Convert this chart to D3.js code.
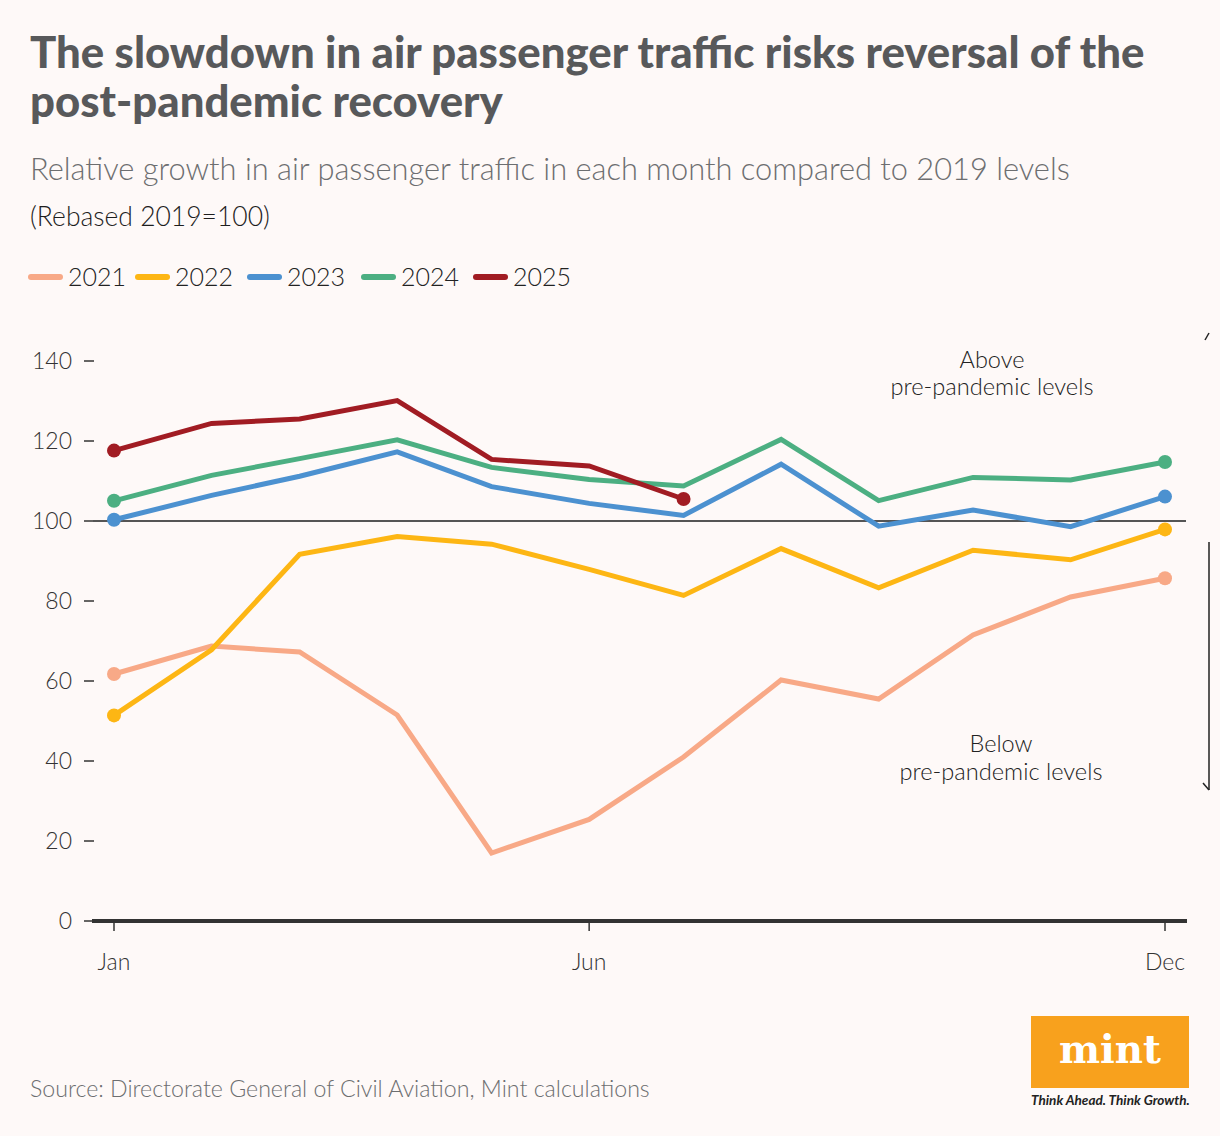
<!DOCTYPE html>
<html>
<head>
<meta charset="utf-8">
<script src="https://cdn.jsdelivr.net/npm/d3@7"></script>
<style>
  html, body { margin: 0; padding: 0; background: #fef9f8; }
  svg { display: block; }
</style>
</head>
<body>
<svg id="chart" width="1220" height="1136"></svg>
<script>
// ---------- Data ----------
const months = ["Jan","Feb","Mar","Apr","May","Jun","Jul","Aug","Sep","Oct","Nov","Dec"];
const years = ["2021","2022","2023","2024","2025"];
const colors = ["#f8a987","#fdb614","#4c91d0","#4caf82","#a11c23"];
const v2021 = [61.75, 68.75, 67.25, 51.5, 17, 25.4, 41, 60.25, 55.5, 71.5, 81, 85.7];
const v2022 = [51.4, 67.8, 91.7, 96.1, 94.2, 87.9, 81.4, 93.1, 83.3, 92.7, 90.3, 97.9];
const v2023 = [100.3, 106.4, 111.2, 117.3, 108.6, 104.4, 101.4, 114.2, 98.7, 102.75, 98.6, 106.1];
const v2024 = [105.05, 111.4, 115.6, 120.3, 113.4, 110.4, 108.75, 120.4, 105.1, 110.9, 110.25, 114.75];
const v2025 = [117.6, 124.4, 125.5, 130.1, 115.4, 113.75, 105.5];
const seriesValues = [v2021, v2022, v2023, v2024, v2025];
const yTicks = [0, 20, 40, 60, 80, 100, 120, 140];
const xTickMonths = ["Jan","Jun","Dec"];
const refValue = 100;

const titleLines = ["The slowdown in air passenger traffic risks reversal of the", "post-pandemic recovery"];
const subtitle = "Relative growth in air passenger traffic in each month compared to 2019 levels";
const rebased = "(Rebased 2019=100)";
const source = "Source: Directorate General of Civil Aviation, Mint calculations";

// ---------- Setup ----------
const FONT = "Lato, 'Open Sans', sans-serif";
const svg = d3.select("#chart").style("font-family", FONT);
svg.append("rect").attr("width", 1220).attr("height", 1136).attr("fill", "#fef9f8");

const monthDate = m => new Date(2021, months.indexOf(m), 1);
const x = d3.scaleTime().domain([monthDate("Jan"), monthDate("Dec")]).range([114, 1165]);
const y = d3.scaleLinear().domain([0, 140]).range([921, 361]);

function fit(sel, target) {
  const w = sel.node().getComputedTextLength();
  const fs = parseFloat(sel.attr("font-size"));
  sel.attr("font-size", fs * target / w);
}

// ---------- Titles ----------
const t1 = svg.append("text").attr("x", 30).attr("y", 68).attr("font-size", 42).attr("font-weight", 900)
  .attr("fill", "#58595b").text(titleLines[0]);
fit(t1, 1115);
svg.append("text").attr("x", 30).attr("y", 117).attr("font-size", t1.attr("font-size")).attr("font-weight", 900)
  .attr("fill", "#58595b").text(titleLines[1]);

const st = svg.append("text").attr("x", 30).attr("y", 180).attr("font-size", 30).attr("font-weight", 300)
  .attr("fill", "#6d6e70").text(subtitle);
fit(st, 1040);
const rb = svg.append("text").attr("x", 30).attr("y", 226).attr("font-size", 26).attr("font-weight", 300)
  .attr("fill", "#1e1e1e").text(rebased);
fit(rb, 240);

// ---------- Legend ----------
const legendX = [31, 138, 250, 364, 476];
years.forEach((yr, i) => {
  const g = svg.append("g");
  g.append("line").attr("x1", legendX[i]).attr("x2", legendX[i] + 29).attr("y1", 277).attr("y2", 277)
    .attr("stroke", colors[i]).attr("stroke-width", 6).attr("stroke-linecap", "round");
  g.append("text").attr("x", legendX[i] + 37).attr("y", 286).attr("font-size", 25).attr("font-weight", 300)
    .attr("fill", "#222").text(yr);
});

// ---------- Axes ----------
const yAxis = svg.append("g");
yTicks.forEach(t => {
  yAxis.append("line").attr("x1", 84).attr("x2", 94).attr("y1", y(t)).attr("y2", y(t))
    .attr("stroke", "#333").attr("stroke-width", 1.5);
  yAxis.append("text").attr("x", 72).attr("y", y(t) + 8).attr("text-anchor", "end")
    .attr("font-size", 23).attr("font-weight", 300).attr("fill", "#333").text(t);
});

// reference line at 100
svg.append("line").attr("x1", 93).attr("x2", 1186).attr("y1", y(refValue)).attr("y2", y(refValue))
  .attr("stroke", "#555").attr("stroke-width", 1.8);

// baseline
svg.append("line").attr("x1", 92).attr("x2", 1187).attr("y1", y(0)).attr("y2", y(0))
  .attr("stroke", "#333").attr("stroke-width", 4);

xTickMonths.forEach(m => {
  svg.append("line").attr("x1", x(monthDate(m))).attr("x2", x(monthDate(m))).attr("y1", y(0)).attr("y2", y(0) + 10)
    .attr("stroke", "#333").attr("stroke-width", 1.5);
  svg.append("text").attr("x", x(monthDate(m))).attr("y", 970).attr("text-anchor", "middle")
    .attr("font-size", 23).attr("font-weight", 300).attr("fill", "#333").text(m);
});

// ---------- Lines ----------
const line = d3.line().x((d, i) => x(monthDate(months[i]))).y(d => y(d));
seriesValues.forEach((vals, i) => {
  svg.append("path").attr("d", line(vals)).attr("fill", "none").attr("stroke", colors[i])
    .attr("stroke-width", 5).attr("stroke-linejoin", "miter");
  [0, vals.length - 1].forEach(k => {
    svg.append("circle").attr("cx", x(monthDate(months[k]))).attr("cy", y(vals[k])).attr("r", 7)
      .attr("fill", colors[i]);
  });
});

// ---------- Annotations ----------
[["Above", 992, 368], ["pre-pandemic levels", 992, 395], ["Below", 1001, 752], ["pre-pandemic levels", 1001, 780]]
  .forEach(([txt, ax, ay]) => {
    const t = svg.append("text").attr("x", ax).attr("y", ay).attr("text-anchor", "middle").attr("font-size", 21)
      .attr("font-weight", 300).attr("fill", "#222").text(txt);
    if (txt.startsWith("pre")) fit(t, 203);
    else t.attr("font-size", 23.5);
  });

// arrows on the right edge
svg.append("line").attr("x1", 1205).attr("y1", 340).attr("x2", 1209).attr("y2", 333)
  .attr("stroke", "#222").attr("stroke-width", 1.5);
svg.append("line").attr("x1", 1209).attr("y1", 542).attr("x2", 1209).attr("y2", 790)
  .attr("stroke", "#222").attr("stroke-width", 1.5);
svg.append("line").attr("x1", 1203).attr("y1", 783).attr("x2", 1209).attr("y2", 790)
  .attr("stroke", "#222").attr("stroke-width", 1.5);

// ---------- Source ----------
const src = svg.append("text").attr("x", 30).attr("y", 1097).attr("font-size", 21).attr("font-weight", 300)
  .attr("fill", "#6d6e70").text(source);
fit(src, 620);

// ---------- Logo ----------
svg.append("rect").attr("x", 1031).attr("y", 1016).attr("width", 158).attr("height", 72).attr("fill", "#f8a11d");
const mt = svg.append("text").attr("x", 1110).attr("y", 1063).attr("text-anchor", "middle")
  .style("font-family", "'DejaVu Serif', 'Liberation Serif', serif").attr("font-weight", 700).attr("font-size", 40)
  .attr("fill", "#fff").text("mint");
fit(mt, 102);
const tag = svg.append("text").attr("x", 1031).attr("y", 1105).attr("font-size", 13).attr("font-weight", 700)
  .attr("font-style", "italic").attr("fill", "#222").text("Think Ahead. Think Growth.");
fit(tag, 159);
</script>
</body>
</html>
